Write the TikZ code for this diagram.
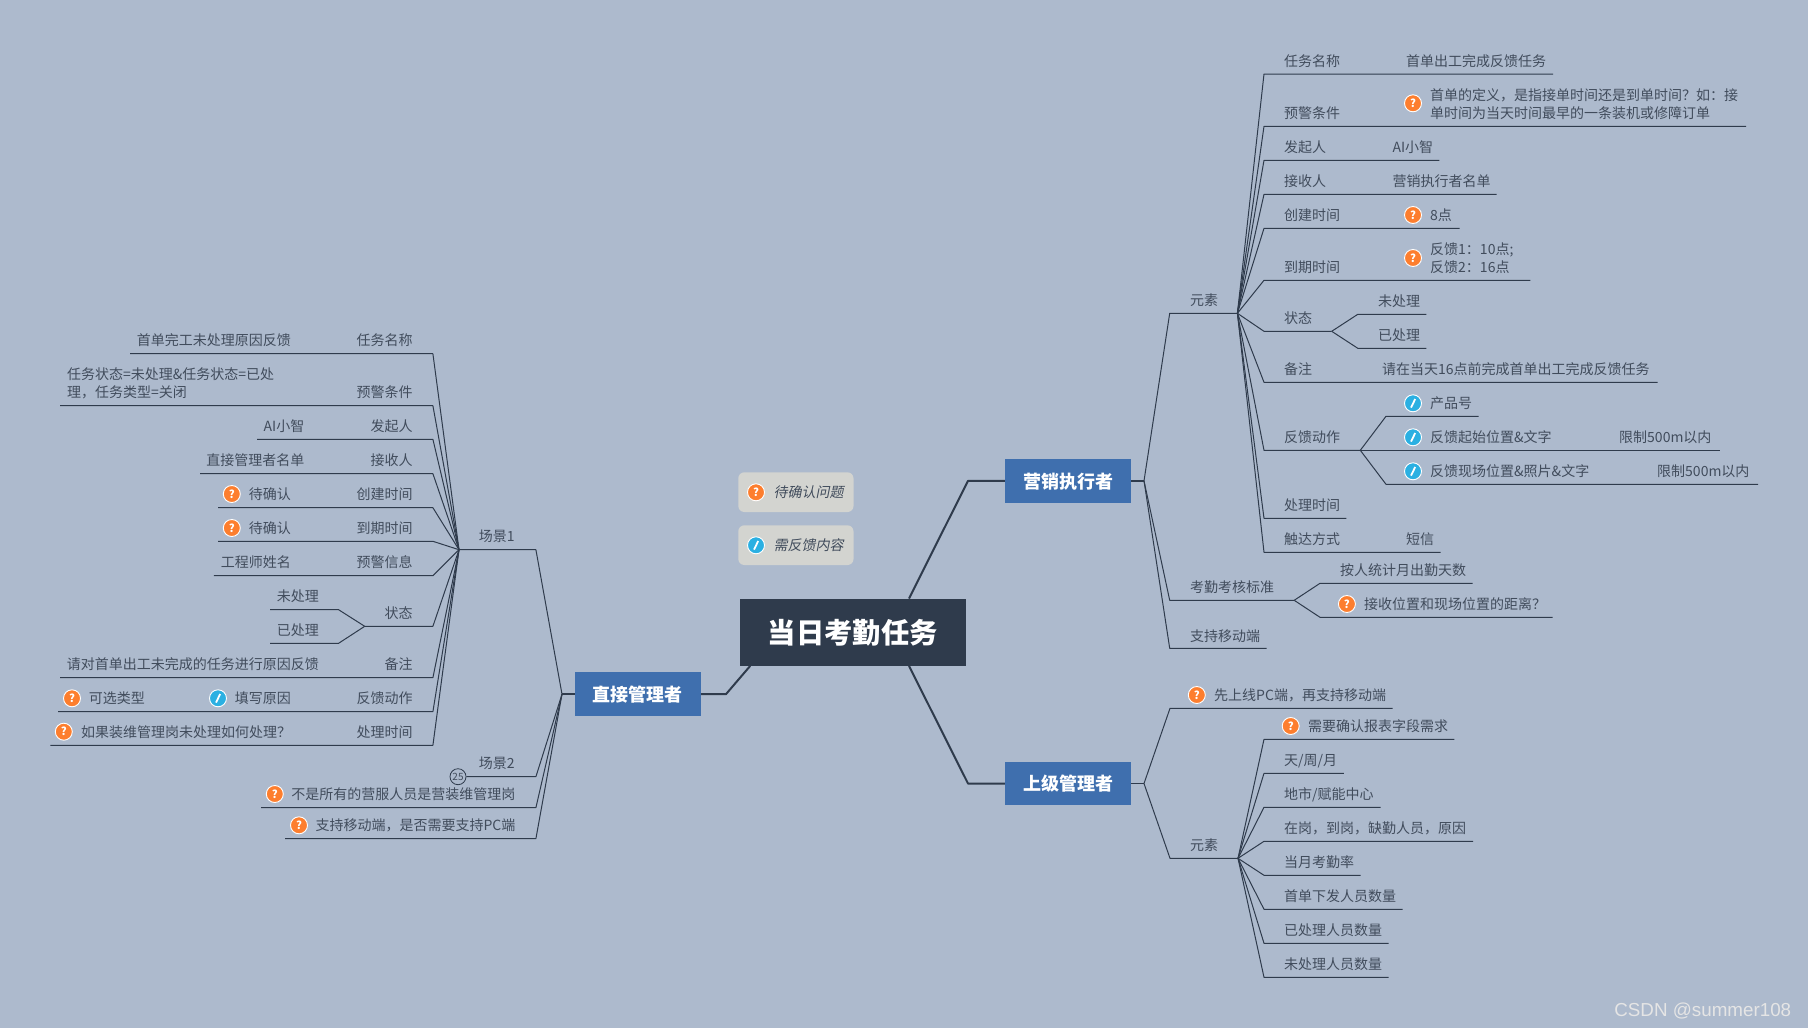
\documentclass[tikz,border=0pt]{standalone}
\usepackage{fontspec}
\setmainfont{Noto Sans CJK SC}
\newfontfamily\slantfont[FakeSlant=0.2]{Noto Sans CJK SC}
\newfontfamily\markfont{Liberation Sans}
\definecolor{bgc}{HTML}{ADBACD}
\definecolor{ink}{HTML}{2F3B4C}
\definecolor{txt}{HTML}{414C5C}
\definecolor{boxb}{HTML}{3F6FAE}
\definecolor{orangei}{HTML}{FD7E2E}
\definecolor{bluei}{HTML}{2BB0E2}
\definecolor{legc}{HTML}{D3D4D0}
\tikzset{
  x=1pt,y=-1pt,
  lbl/.style={inner sep=0pt,text=txt,font=\fontsize{14}{18}\selectfont,text height=12pt,text depth=1.4pt},
  para/.style={inner sep=0pt,text=txt,font=\fontsize{14}{18}\selectfont,align=left},
  twig/.style={draw=ink,line width=1pt,line join=round},
  mainline/.style={draw=ink,line width=2pt,line join=round},
  topicbox/.style={fill=boxb,text=white,inner sep=0pt,minimum width=126pt,minimum height=43.7pt,font=\fontsize{18}{20}\selectfont\bfseries,text height=16.4pt,text depth=1.8pt},
  legbox/.style={fill=legc,rounded corners=6pt,inner sep=0pt,minimum width=115.2pt,minimum height=39.7pt},
  qmark/.style={circle,fill=orangei,draw=white,line width=0.9pt,minimum size=17pt,inner sep=0pt,text=white,font=\fontsize{11}{12}\selectfont\bfseries},
  pmark/.style={circle,fill=bluei,draw=white,line width=0.9pt,minimum size=17pt,inner sep=0pt},
  pencil/.style={draw=white,line width=1.8pt},
}
% text left-anchored, right-anchored
\newcommand\TL[4]{\node[lbl,anchor=west] (#1) at (#2,#3) {#4};}
\newcommand\TR[4]{\node[lbl,anchor=east] (#1) at (#2,#3) {#4};}
% branch: name, from, start x, end x, y
\newcommand\BR[5]{\coordinate (#1a) at (#3,#5);\coordinate (#1b) at (#4,#5);\draw[twig] (#2) -- (#1a) -- (#1b);}
% icons
\newcommand\QI[3]{\node[qmark] (#1) at (#2,#3) {?};}
\newcommand\PI[3]{\node[pmark] (#1) at (#2,#3) {};\draw[pencil] ([shift={(-2,4.3)}]#1.center) -- ([shift={(2.2,-4.3)}]#1.center);}
\begin{document}
\begin{tikzpicture}
\fill[bgc] (0,0) rectangle (1808,1028);
\useasboundingbox (0,0) rectangle (1808,1028);

% ---- central and main topics
\node[fill=ink,text=white,inner sep=0pt,minimum width=225.8pt,minimum height=67pt,font=\fontsize{28.3}{30}\selectfont\bfseries,text height=26pt,text depth=2.8pt] (root) at (852.8,632.2) {当日考勤任务};
\node[topicbox] (mkt) at (1068,480.85) {营销执行者};
\node[topicbox] (sup) at (1068,783.5) {上级管理者};
\node[topicbox] (dir) at (637.9,694.15) {直接管理者};
\coordinate (e1) at (968,480.85);
\coordinate (e2) at (968,783.5);
\coordinate (e3) at (726,694.15);
\draw[mainline] ([xshift=56.2pt]root.north) -- (e1) -- (mkt.west);
\draw[mainline] ([xshift=56.2pt]root.south) -- (e2) -- (sup.west);
\draw[mainline] ([xshift=-102.6pt]root.south) -- (e3) -- (dir.east);

% ---- legend
\node[legbox] (leg1) at (795.9,492.15) {};
\node[legbox] (leg2) at (795.9,545.15) {};
\QI{legq}{756}{492.3}
\PI{legp}{756}{545.3}
\node[lbl,anchor=west,font=\fontsize{14}{18}\slantfont] (legt1) at (773.5,492.3) {待确认问题};
\node[lbl,anchor=west,font=\fontsize{14}{18}\slantfont] (legt2) at (773.5,545.3) {需反馈内容};

% ---- marketing executor
\coordinate (hm) at (1144,480.85);
\draw[mainline,line width=1.6pt] (mkt.east) -- (hm);
\coordinate (hme) at (1237.4,313.3);
\coordinate (hmea) at (1169.7,313.3);
\draw[twig] (hm) -- (hmea) -- (hme);
\TL{me}{1190}{300}{元素}

\BR{r1}{hme}{1264}{1553}{74}
\TL{r1k}{1284}{61}{任务名称}
\TL{r1v}{1406}{61}{首单出工完成反馈任务}

\BR{r2}{hme}{1264}{1746}{126.3}
\TL{r2k}{1284}{113}{预警条件}
\QI{r2i}{1413}{103.3}
\node[para,anchor=west] (r2v) at (1430,104) {首单的定义，是指接单时间还是到单时间？如：接\\单时间为当天时间最早的一条装机或修障订单};

\BR{r3}{hme}{1264}{1439.4}{160.3}
\TL{r3k}{1284}{147}{发起人}
\TL{r3v}{1392.3}{147}{AI小智}

\BR{r4}{hme}{1264}{1496.7}{194.3}
\TL{r4k}{1284}{181}{接收人}
\TL{r4v}{1392.3}{181}{营销执行者名单}

\BR{r5}{hme}{1264}{1459.6}{228.3}
\TL{r5k}{1284}{215}{创建时间}
\QI{r5i}{1413}{215}
\TL{r5v}{1430}{215}{8点}

\BR{r6}{hme}{1264}{1530.4}{280.3}
\TL{r6k}{1284}{267}{到期时间}
\QI{r6i}{1413}{258}
\node[para,anchor=west] (r6v) at (1430,258) {反馈1：10点;\\反馈2：16点};

\BR{r7}{hme}{1264}{1331.7}{331.3}
\TL{r7k}{1284}{318.3}{状态}
\BR{r71}{r7b}{1357.8}{1426.4}{314.3}
\TL{r71v}{1378}{301}{未处理}
\BR{r72}{r7b}{1357.8}{1426.4}{348.3}
\TL{r72v}{1378}{335}{已处理}

\BR{r8}{hme}{1264}{1657.5}{382.3}
\TL{r8k}{1284}{369.3}{备注}
\TL{r8v}{1381.8}{369.3}{请在当天16点前完成首单出工完成反馈任务}

\BR{r9}{hme}{1264}{1360.3}{450.3}
\TL{r9k}{1284}{437.3}{反馈动作}
\BR{r91}{r9b}{1386}{1478.6}{416.3}
\PI{r91i}{1413}{403.3}
\TL{r91v}{1430}{403.3}{产品号}
\coordinate (r92b) at (1719.8,450.3);
\draw[twig] (r9b) -- (r92b);
\PI{r92i}{1413}{437.3}
\TL{r92v}{1430}{437.3}{反馈起始位置\&文字}
\TL{r92w}{1619}{437.3}{限制500m以内}
\BR{r93}{r9b}{1386}{1758}{484.3}
\PI{r93i}{1413}{471.3}
\TL{r93v}{1430}{471.3}{反馈现场位置\&照片\&文字}
\TL{r93w}{1657}{471.3}{限制500m以内}

\BR{r10}{hme}{1264}{1346.4}{518.3}
\TL{r10k}{1284}{505}{处理时间}

\BR{r11}{hme}{1264}{1440.7}{552.3}
\TL{r11k}{1284}{539.3}{触达方式}
\TL{r11v}{1405.8}{539.3}{短信}

\BR{m2}{hm}{1169.7}{1294.2}{600.3}
\TL{m2k}{1190}{587.3}{考勤考核标准}
\BR{m21}{m2b}{1320}{1472.7}{583.3}
\TL{m21v}{1340}{570.3}{按人统计月出勤天数}
\BR{m22}{m2b}{1320}{1552.7}{617.3}
\QI{m22i}{1346.9}{604}
\TL{m22v}{1364}{604}{接收位置和现场位置的距离？}

\BR{m3}{hm}{1169.7}{1266.5}{648.3}
\TL{m3k}{1190}{635.7}{支持移动端}

% ---- superior manager
\coordinate (hs) at (1144,783.5);
\draw[mainline,line width=1.6pt] (sup.east) -- (hs);
\BR{s1}{hs}{1170}{1392.5}{708.3}
\QI{s1i}{1196.8}{695}
\TL{s1v}{1214}{695}{先上线PC端，再支持移动端}

\BR{s2}{hs}{1170}{1238}{858.3}
\TL{s2k}{1190}{845}{元素}

\BR{t1}{s2b}{1264}{1454.4}{739.3}
\QI{t1i}{1290.7}{726}
\TL{t1v}{1307.8}{726}{需要确认报表字段需求}
\BR{t2}{s2b}{1264}{1343.8}{773.3}
\TL{t2v}{1284}{760}{天/周/月}
\BR{t3}{s2b}{1264}{1380.6}{807.3}
\TL{t3v}{1284}{794}{地市/赋能中心}
\BR{t4}{s2b}{1264}{1473.2}{841.3}
\TL{t4v}{1284}{828.3}{在岗，到岗，缺勤人员，原因}
\BR{t5}{s2b}{1264}{1360.5}{875.3}
\TL{t5v}{1284}{862}{当月考勤率}
\BR{t6}{s2b}{1264}{1402.6}{909.3}
\TL{t6v}{1284}{896}{首单下发人员数量}
\BR{t7}{s2b}{1264}{1388.5}{943.3}
\TL{t7v}{1284}{930}{已处理人员数量}
\BR{t8}{s2b}{1264}{1388.5}{977.3}
\TL{t8v}{1284}{964}{未处理人员数量}

% ---- direct manager
\coordinate (hd) at (562,694.15);
\draw[mainline,line width=1.6pt] (dir.west) -- (hd);
\BR{d1}{hd}{535.9}{459}{549.7}
\TL{d1k}{478.6}{536}{场景1}

\BR{l1}{d1b}{432.9}{130.2}{353.7}
\TR{l1k}{412.8}{340}{任务名称}
\TR{l1v}{291}{340}{首单完工未处理原因反馈}

\BR{l2}{d1b}{432.9}{60}{405.7}
\TR{l2k}{412.8}{392}{预警条件}
\node[para,anchor=west] (l2v) at (66.9,383) {任务状态=未处理\&任务状态=已处\\理，任务类型=关闭};

\BR{l3}{d1b}{432.9}{257}{439.3}
\TR{l3k}{412.8}{426}{发起人}
\TR{l3v}{304.5}{426}{AI小智}

\BR{l4}{d1b}{432.9}{200}{473.7}
\TR{l4k}{412.8}{460}{接收人}
\TR{l4v}{304.5}{460}{直接管理者名单}

\BR{l5}{d1b}{432.9}{218}{507.7}
\TR{l5k}{412.8}{494}{创建时间}
\QI{l5i}{231.8}{494}
\TR{l5v}{291}{494}{待确认}

\BR{l6}{d1b}{432.9}{218}{541.3}
\TR{l6k}{412.8}{528}{到期时间}
\QI{l6i}{231.8}{528}
\TR{l6v}{291}{528}{待确认}

\BR{l7}{d1b}{432.9}{213.9}{575.7}
\TR{l7k}{412.8}{562}{预警信息}
\TR{l7v}{291}{562}{工程师姓名}

\BR{l8}{d1b}{432.9}{364.7}{626.3}
\TR{l8k}{412.8}{613.3}{状态}
\BR{l81}{l8b}{338.6}{270}{609.7}
\TR{l81v}{319}{596.3}{未处理}
\BR{l82}{l8b}{338.6}{270}{643.3}
\TR{l82v}{319}{630}{已处理}

\BR{l9}{d1b}{432.9}{60}{677.7}
\TR{l9k}{412.8}{664}{备注}
\TR{l9v}{319}{664}{请对首单出工未完成的任务进行原因反馈}

\BR{l10}{d1b}{432.9}{58}{711.7}
\TR{l10k}{412.8}{698.3}{反馈动作}
\QI{l10i}{72}{698.3}
\TR{l10v}{145}{698.3}{可选类型}
\PI{l10j}{218}{698.3}
\TR{l10w}{291}{698.3}{填写原因}

\BR{l11}{d1b}{432.9}{50.3}{745.3}
\TR{l11k}{412.8}{731.7}{处理时间}
\QI{l11i}{63.8}{731.7}
\TL{l11v}{81}{731.7}{如果装维管理岗未处理如何处理？}

\node[circle,draw=ink,line width=0.8pt,minimum size=16pt,inner sep=0pt,text=txt,font=\fontsize{10}{11}\selectfont] (badge) at (458,776.7) {25};
\coordinate (d2a) at (535.9,776.7);
\draw[twig] (hd) -- (d2a) -- (badge.east);
\TL{d2k}{478.6}{763.3}{场景2}

\BR{d3}{hd}{535.9}{261}{807.7}
\QI{d3i}{274.8}{794}
\TR{d3v}{515.5}{794}{不是所有的营服人员是营装维管理岗}

\BR{d4}{hd}{535.9}{285}{838.7}
\QI{d4i}{299}{825.3}
\TR{d4v}{515.5}{825.3}{支持移动端，是否需要支持PC端}

% ---- watermark
\node[anchor=east,inner sep=0pt,text=white!90!black,font=\fontsize{18.8}{20}\markfont] (wm) at (1791.4,1011) {CSDN @summer108};
\end{tikzpicture}
\end{document}
